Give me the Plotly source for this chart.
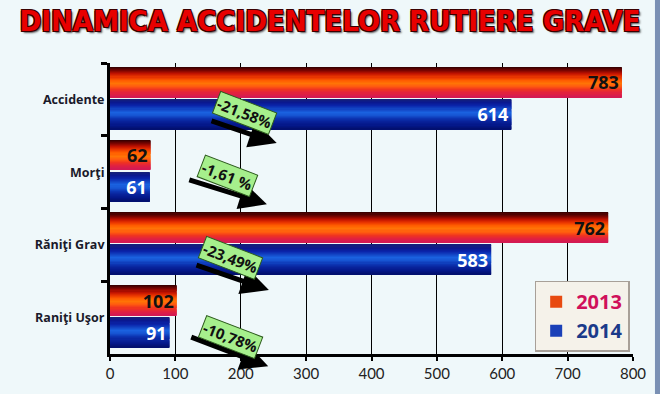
import plotly.graph_objects as go

# ---------------- data ----------------
categories = ["Accidente", "Morţi", "Răniţi Grav", "Raniţi Uşor"]
values_2013 = [783, 62, 762, 102]
values_2014 = [614, 61, 583, 91]
series_names = ["2013", "2014"]
changes = ["-21,58%", "-1,61 %", "-23,49%", "-10,78%"]
x_ticks = [0, 100, 200, 300, 400, 500, 600, 700, 800]

# ---------------- style ----------------
red_stops = ["#3a0000", "#7a0400", "#c01200", "#e83400", "#ff5c00",
             "#ff7406", "#ff5a10", "#f03420", "#e2223e", "#d41a52"]
blue_stops = ["#14207a", "#0a1890", "#0a24aa", "#1244c4", "#1a62e0",
              "#1654d2", "#0c34b2", "#08229a", "#04188a", "#021070"]
BAR_W = 0.41
RED_OFF = -0.44
BLUE_OFF = 0.0
BG = "#eff8fa"
N_BANDS = 28


def interp_colors(stops, n):
    rgb = [tuple(int(s[i:i + 2], 16) for i in (1, 3, 5)) for s in stops]
    out = []
    for k in range(n):
        t = k / (n - 1) * (len(rgb) - 1)
        j = min(int(t), len(rgb) - 2)
        f = t - j
        c = tuple(round(rgb[j][m] * (1 - f) + rgb[j + 1][m] * f) for m in range(3))
        out.append("rgb(%d,%d,%d)" % c)
    return out


fig = go.Figure()


def add_banded(values, stops, offset, name, legend_color, text_color):
    bands = interp_colors(stops, N_BANDS)
    bw = BAR_W / N_BANDS
    for k, col in enumerate(bands):
        w = bw * 1.6 if k < N_BANDS - 1 else bw
        fig.add_trace(go.Bar(
            y=categories, x=values, orientation="h",
            width=[w] * len(values), offset=[offset + k * bw] * len(values),
            marker=dict(color=col, line=dict(width=0)),
            showlegend=False, hoverinfo="skip",
        ))
    fig.add_trace(go.Bar(
        y=categories, x=values, orientation="h",
        width=[BAR_W] * len(values), offset=[offset] * len(values),
        marker=dict(color="rgba(0,0,0,0)", line=dict(width=0)),
        text=["<b>%d</b>" % v for v in values], textposition="inside",
        insidetextanchor="end", constraintext="none", textangle=0,
        insidetextfont=dict(family="Open Sans, sans-serif", size=18,
                            color=text_color),
        name=name, showlegend=False,
    ))
    fig.add_trace(go.Bar(
        y=[None], x=[None], orientation="h",
        marker=dict(color=legend_color, line=dict(width=0)),
        name=name, showlegend=True,
    ))


add_banded(values_2013, red_stops, RED_OFF,
           "<b><span style='color:#d0105a'>2013</span></b>", "#e84a10", "#111111")
add_banded(values_2014, blue_stops, BLUE_OFF,
           "<b><span style='color:#1a3a8a'>2014</span></b>", "#1a40b8", "#ffffff")

# ---------------- arrows and change labels ----------------
arrow_tail_x = [153, 119, 130, 122]
arrow_head_x = [255, 240, 243, 242]
arrow_tail_dy = [0.29, 0.10, 0.27, 0.26]
arrow_head_dy = [0.60, 0.44, 0.62, 0.67]
label_x = [206, 180, 185, 184]
label_dy = [0.19, 0.05, 0.18, 0.27]

annotations = []
for i in range(len(categories)):
    annotations.append(dict(
        x=arrow_head_x[i], y=i + arrow_head_dy[i],
        ax=arrow_tail_x[i], ay=i + arrow_tail_dy[i],
        xref="x", yref="y", axref="x", ayref="y",
        text="", showarrow=True, arrowhead=2, arrowsize=1.1,
        arrowwidth=5, arrowcolor="#000000", standoff=0,
    ))
for i in range(len(categories)):
    annotations.append(dict(
        x=label_x[i], y=i + label_dy[i], xref="x", yref="y",
        text="<b>" + changes[i] + "</b>", showarrow=False, textangle=21,
        font=dict(family="Open Sans, sans-serif", size=15, color="#111111"),
        bgcolor="#a6ef8c", bordercolor="#2c5a1c", borderwidth=1, borderpad=1,
    ))

fig.update_layout(
    width=660, height=394,
    margin=dict(l=110, r=27, t=63, b=38),
    paper_bgcolor=BG, plot_bgcolor=BG,
    barmode="overlay",
    title=dict(
        text="<b>DINAMICA ACCIDENTELOR RUTIERE GRAVE</b>",
        xref="container", x=0.5, xanchor="center",
        yref="container", y=0.948, yanchor="middle",
        font=dict(family="DejaVu Sans Condensed, DejaVu Sans, sans-serif",
                  size=29, color="#e80000",
                  shadow="-1px -1px 0 #3a0000, 1px -1px 0 #3a0000, -1px 1px 0 #3a0000, 1px 1px 0 #3a0000, 2px 2px 2px #555"),
    ),
    xaxis=dict(
        range=[0, 800], tickvals=x_ticks, ticktext=[str(t) for t in x_ticks],
        showgrid=True, gridcolor="#000000", gridwidth=1,
        showline=True, linecolor="#000000", linewidth=3,
        ticks="outside", ticklen=4, tickwidth=2, tickcolor="#000000",
        zeroline=False,
        tickfont=dict(family="Lato, Open Sans, sans-serif", size=15, color="#222222"),
    ),
    yaxis=dict(
        type="category", categoryorder="array", categoryarray=categories,
        range=[3.5, -0.5], showgrid=False,
        showline=True, linecolor="#000000", linewidth=3,
        ticks="outside", tickson="boundaries", ticklen=6, tickwidth=3,
        tickcolor="#000000", zeroline=False,
        tickfont=dict(family="Open Sans, sans-serif", size=12.5, color="#1a1a2a",
                      weight="bold"),
    ),
    legend=dict(
        x=0.812, y=0.008, xanchor="left", yanchor="bottom",
        bgcolor="#f5f2ea", bordercolor="#a8a098", borderwidth=1.5,
        font=dict(family="Open Sans, sans-serif", size=20),
        traceorder="normal", itemwidth=30, tracegroupgap=0,
    ),
    annotations=annotations,
    shapes=[dict(type="rect", xref="paper", yref="paper",
                 x0=1.042, x1=1.06, y0=-0.2, y1=1.3,
                 fillcolor="#7a90b4", line=dict(width=0), layer="above")],
)

fig.write_html("out.html")
